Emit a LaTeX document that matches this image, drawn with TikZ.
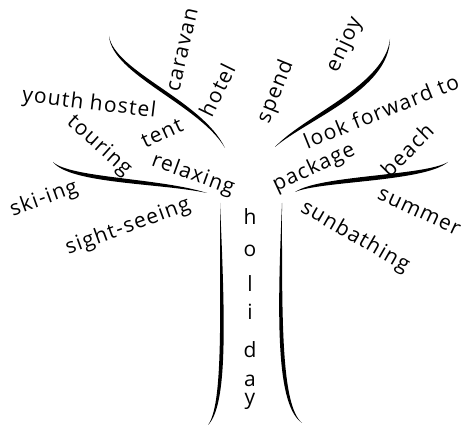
\documentclass[tikz,border=0pt]{standalone}
\usepackage{fontspec}
\setmainfont{Open Sans}[LetterSpace=6]
\begin{document}
\begin{tikzpicture}[x=1pt,y=-1pt,
  word/.style={inner sep=0pt, font=\fontsize{21}{23}\selectfont},
  brush/.style={fill=black}]
\useasboundingbox (0,0) rectangle (464,427);
% branches (tapered strokes)
\fill[brush] (109,36) .. controls (112,75) and (200,105) .. (225,148)
  .. controls (202,100) and (115,72) .. (109,36);
\fill[brush] (53,162) .. controls (70,184) and (160,183) .. (207,193)
  .. controls (160,178) and (70,178) .. (53,162);
\fill[brush] (220,203) .. controls (220,320) and (223,405) .. (208,425)
  .. controls (228,405) and (225,320) .. (220,203);
\fill[brush] (282,203) .. controls (282,320) and (281,405) .. (302,423)
  .. controls (276,405) and (277,320) .. (282,203);
\fill[brush] (295,192) .. controls (320,181) and (425,182) .. (448,162)
  .. controls (425,176) and (320,175) .. (295,192);
\fill[brush] (275,147) .. controls (305,115) and (385,85) .. (390,39)
  .. controls (389,90) and (308,119) .. (275,147);
% words
\node[word, rotate=77] (caravan) at (183,50) {caravan};
\node[word, rotate=64] (hotel) at (217,90) {hotel};
\node[word, rotate=-7] (youth) at (89,104) {youth hostel};
\node[word, rotate=-42] (touring) at (99,146) {touring};
\node[word, rotate=25] (tent) at (162,133) {tent};
\node[word, rotate=-20] (relaxing) at (193,175) {relaxing};
\node[word, rotate=20] (ski) at (44,199) {ski-ing};
\node[word, rotate=20] (sight) at (128,227) {sight-seeing};
\node[word, rotate=68] (spend) at (276,92) {spend};
\node[word, rotate=65] (enjoy) at (345,45) {enjoy};
\node[word, rotate=22] (look) at (381,111) {look forward to};
\node[word, rotate=25] (package) at (314,168) {package};
\node[word, rotate=45] (beach) at (407,150) {beach};
\node[word, rotate=-25] (summer) at (419,212) {summer};
\node[word, rotate=-30] (sun) at (355,237) {sunbathing};
% holiday
\foreach \l/\yy [count=\i] in {h/225,o/257,l/292,i/320,d/358,a/387,y/405}
  \node[word, anchor=base] (hol\i) at (250,\yy) {\l};
\end{tikzpicture}
\end{document}
